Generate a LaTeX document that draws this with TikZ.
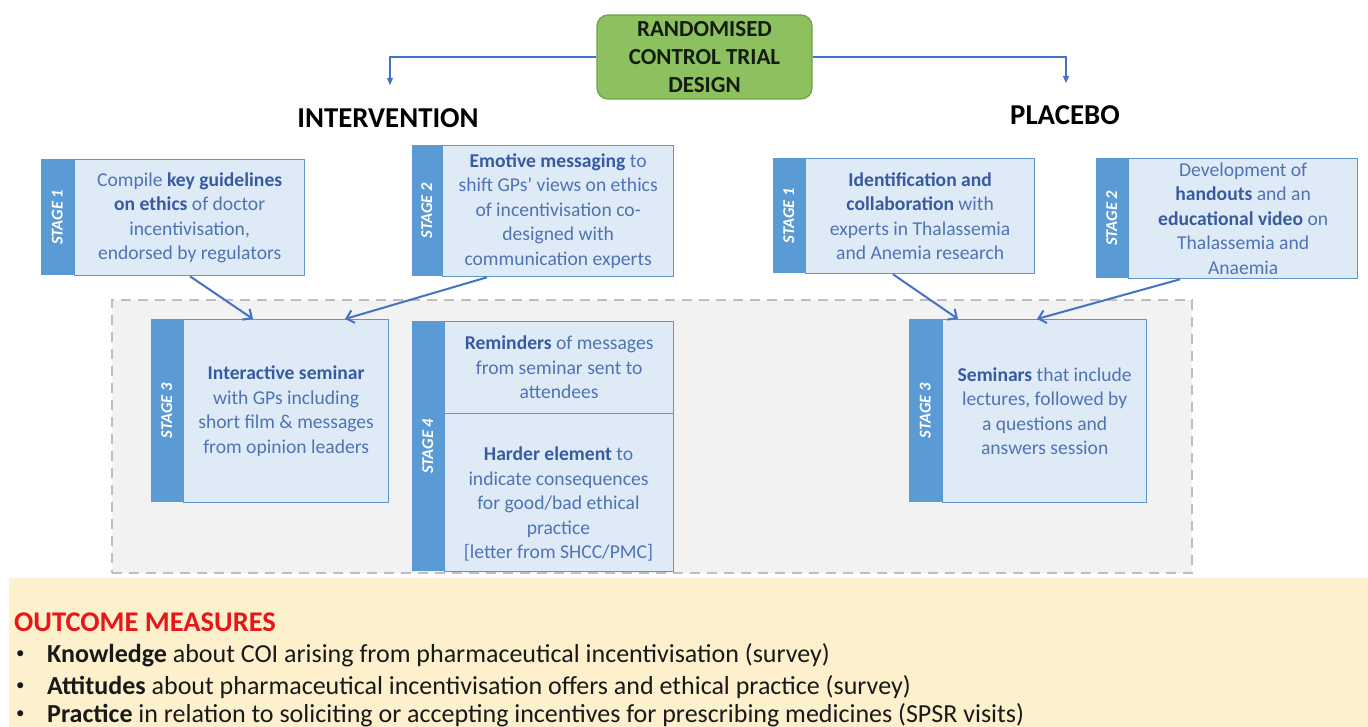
\documentclass[tikz,border=0pt]{standalone}
\usepackage{fontspec}
\setmainfont{Carlito}
\usetikzlibrary{arrows.meta}
\definecolor{barblue}{RGB}{91,155,213}
\definecolor{boxfill}{RGB}{222,235,247}
\definecolor{boxdraw}{RGB}{95,150,205}
\definecolor{txtblue}{RGB}{80,115,180}
\definecolor{txtbold}{RGB}{55,90,160}
\definecolor{arrowblue}{RGB}{68,114,196}
\definecolor{regionfill}{RGB}{242,242,242}
\definecolor{regiondraw}{RGB}{190,190,190}
\definecolor{beige}{RGB}{253,241,205}
\definecolor{rctgreen}{RGB}{141,192,94}
\definecolor{rctdraw}{RGB}{112,160,72}
\definecolor{outred}{RGB}{232,22,22}
\newcommand\kw[1]{\textbf{\color{txtbold}#1}}
\begin{document}
\begin{tikzpicture}[x=1pt,y=-1pt,
  sbox/.style={draw=boxdraw, fill=boxfill, line width=1.3pt, inner sep=0pt, text=txtblue, align=center, font=\fontsize{19.6}{24.5}\selectfont},
  sbar/.style={fill=barblue, inner sep=0pt, text=white, font=\fontsize{16.5}{16.5}\selectfont\bfseries\itshape},
  diag/.style={draw=arrowblue, line width=2pt, -{Straight Barb[length=7pt,width=13pt,line width=2pt]}},
  toparrow/.style={draw=arrowblue, line width=1.2pt, -{Triangle[length=7pt,width=6pt]}},
  heading/.style={font=\fontsize{28.8}{32}\selectfont\bfseries, text=black},
  bullet/.style={anchor=west, inner sep=0pt, font=\fontsize{26}{30}\selectfont, text={rgb,255:red,25;green,25;blue,25}}
]
\useasboundingbox (0,0) rectangle (1368,727);
\fill[white] (0,0) rectangle (1368,727);

% outcome band
\node[fill=beige, inner sep=0pt, minimum width=1359pt, minimum height=149pt, anchor=north west] (band) at (9,578) {};
\node[anchor=west, inner sep=0pt, font=\fontsize{28.5}{32}\selectfont\bfseries, text=outred] (om) at (14,622) {OUTCOME MEASURES};
\node[bullet, font=\fontsize{17}{20}\selectfont] (b1d) at (16,655) {\textbullet};
\node[bullet] (b1) at (47,655) {\textbf{Knowledge} about COI arising from pharmaceutical incentivisation (survey)};
\node[bullet, font=\fontsize{17}{20}\selectfont] (b2d) at (16,687) {\textbullet};
\node[bullet] (b2) at (47,687) {\textbf{Attitudes} about pharmaceutical incentivisation offers and ethical practice (survey)};
\node[bullet, font=\fontsize{17}{20}\selectfont] (b3d) at (16,715) {\textbullet};
\node[bullet] (b3) at (47,715) {\textbf{Practice} in relation to soliciting or accepting incentives for prescribing medicines (SPSR visits)};

% dashed region
\node[fill=regionfill, draw=regiondraw, line width=2pt, dash pattern=on 10pt off 7pt, inner sep=0pt, minimum width=1080pt, minimum height=273pt, anchor=north west] (region) at (111,299) {};

% top
\node[fill=rctgreen, draw=rctdraw, line width=1.2pt, rounded corners=11pt, minimum width=215pt, minimum height=84pt, align=center, inner sep=0pt, font=\fontsize{23}{28}\selectfont\bfseries, text={rgb,255:red,20;green,28;blue,15}] (rct) at (704.5,57) {RANDOMISED\\CONTROL TRIAL\\DESIGN};
\node[heading] (intv) at (388,118) {INTERVENTION};
\node[heading] (plac) at (1065,115) {PLACEBO};
\coordinate (ia) at (390,85);
\coordinate (pa) at (1066,83);
\draw[toparrow] (rct.west) -| (ia);
\draw[toparrow] (rct.east) -| (pa);

% Intervention stage 1
\node[sbox, minimum width=230pt, minimum height=116pt, anchor=north west] (i1) at (74,159) {Compile \kw{key guidelines}\\\kw{on ethics} of doctor\\incentivisation,\\endorsed by regulators};
\node[sbar, minimum width=33pt, minimum height=116pt, anchor=north east] (i1s) at (i1.north west) {\rotatebox{90}{STAGE 1}};
% Intervention stage 2
\node[sbox, minimum width=231pt, minimum height=131pt, anchor=north west] (i2) at (442,145) {\kw{Emotive messaging} to\\shift GPs’ views on ethics\\of incentivisation co-\\designed with\\communication experts};
\node[sbar, minimum width=30pt, minimum height=131pt, anchor=north east] (i2s) at (i2.north west) {\rotatebox{90}{STAGE 2}};
% Placebo stage 1
\node[sbox, minimum width=229pt, minimum height=115pt, anchor=north west] (p1) at (805,158) {\kw{Identification and}\\\kw{collaboration} with\\experts in Thalassemia\\and Anemia research};
\node[sbar, minimum width=32pt, minimum height=115pt, anchor=north east] (p1s) at (p1.north west) {\rotatebox{90}{STAGE 1}};
% Placebo stage 2
\node[sbox, minimum width=229pt, minimum height=120pt, anchor=north west] (p2) at (1128,158) {Development of\\\kw{handouts} and an\\\kw{educational video} on\\Thalassemia and\\Anaemia};
\node[sbar, minimum width=32pt, minimum height=120pt, anchor=north east] (p2s) at (p2.north west) {\rotatebox{90}{STAGE 2}};

% Intervention stage 3
\node[sbox, minimum width=205pt, minimum height=183pt, anchor=north west] (i3) at (183,319) {\kw{Interactive seminar}\\with GPs including\\short film \& messages\\from opinion leaders};
\node[sbar, minimum width=32pt, minimum height=183pt, anchor=north east] (i3s) at (i3.north west) {\rotatebox{90}{STAGE 3}};
% Intervention stage 4
\node[sbox, minimum width=229pt, minimum height=92pt, anchor=north west] (i4a) at (444,321) {\kw{Reminders} of messages\\from seminar sent to\\attendees};
\node[sbox, minimum width=229pt, minimum height=158pt, anchor=north west] (i4b) at (444,413) {};
\node[inner sep=0pt, align=center, text=txtblue, font=\fontsize{19.6}{24.5}\selectfont] (i4t) at (558.5,504) {\kw{Harder element} to\\indicate consequences\\for good/bad ethical\\practice\\{[}letter from SHCC/PMC{]}};
\node[sbar, minimum width=32pt, minimum height=250pt, anchor=north east] (i4s) at (i4a.north west) {\rotatebox{90}{STAGE 4}};
% Placebo stage 3
\node[sbox, minimum width=204pt, minimum height=183pt, anchor=north west] (p3) at (942,319) {\kw{Seminars} that include\\lectures, followed by\\a questions and\\answers session};
\node[sbar, minimum width=33pt, minimum height=183pt, anchor=north east] (p3s) at (p3.north west) {\rotatebox{90}{STAGE 3}};

% diagonal arrows
\draw[diag] ([xshift=116pt]i1.south west) -- ([xshift=70pt]i3.north west);
\draw[diag] ([xshift=45pt]i2.south west) -- ([xshift=162pt]i3.north west);
\draw[diag] ([xshift=88pt]p1.south west) -- ([xshift=16pt]p3.north west);
\draw[diag] ([xshift=52pt]p2.south west) -- ([xshift=95pt]p3.north west);
\end{tikzpicture}
\end{document}
